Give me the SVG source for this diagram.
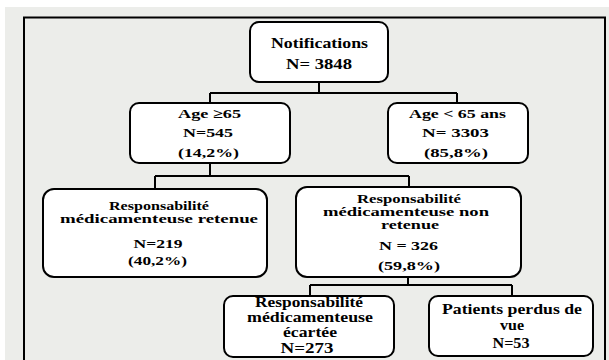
<svg xmlns="http://www.w3.org/2000/svg" width="609" height="360" viewBox="0 0 609 360">
<style>
.box{fill:#ffffff;stroke:#000000;stroke-width:2}
.t{font-family:"Liberation Serif","Times New Roman",serif;font-weight:bold;fill:#000000;text-anchor:middle}
.s14{font-size:14px}
.s13{font-size:13px}
.s15{font-size:15px}
.conn{fill:none;stroke:#000000;stroke-width:2}
</style>
<rect x="0" y="0" width="609" height="360" fill="#ffffff"/>
<rect x="5" y="7" width="604" height="353" fill="#ecedea"/>
<rect x="24" y="17.5" width="581" height="360" fill="none" stroke="#000000" stroke-width="2"/>
<g id="connectors">
<path class="conn" d="M319,82 V93 M210,93 H457 M210,93 V103 M457,93 V103"/>
<path class="conn" d="M210,163 V176 M155,176 H409 M155,176 V189 M409,176 V187"/>
<path class="conn" d="M408,277 V285 M310,285 H512 M310,285 V296 M512,285 V296"/>
</g>
<g id="notifications">
<rect class="box" x="250" y="22" width="138" height="60" rx="9"/>
<text class="t s14" x="319.5" y="48" textLength="97" lengthAdjust="spacingAndGlyphs">Notifications</text>
<text class="t s14" x="319" y="69" textLength="66" lengthAdjust="spacingAndGlyphs">N= 3848</text>
</g>
<g id="age65plus">
<rect class="box" x="130" y="103" width="160" height="60" rx="9"/>
<text class="t s13" x="209.5" y="118" textLength="63" lengthAdjust="spacingAndGlyphs">Age ≥65</text>
<text class="t s13" x="208" y="137" textLength="50" lengthAdjust="spacingAndGlyphs">N=545</text>
<text class="t s13" x="208.5" y="157" textLength="61" lengthAdjust="spacingAndGlyphs">(14,2%)</text>
</g>
<g id="age65minus">
<rect class="box" x="388" y="103" width="140" height="60" rx="9"/>
<text class="t s13" x="457.5" y="118" textLength="97" lengthAdjust="spacingAndGlyphs">Age &lt; 65 ans</text>
<text class="t s13" x="455.5" y="137" textLength="67" lengthAdjust="spacingAndGlyphs">N= 3303</text>
<text class="t s13" x="456" y="157" textLength="64" lengthAdjust="spacingAndGlyphs">(85,8%)</text>
</g>
<g id="retenue">
<rect class="box" x="43" y="189" width="224" height="88" rx="11"/>
<text class="t s13" x="159" y="210" textLength="100" lengthAdjust="spacingAndGlyphs">Responsabilité</text>
<text class="t s13" x="159" y="223" textLength="198" lengthAdjust="spacingAndGlyphs">médicamenteuse retenue</text>
<text class="t s13" x="158" y="248" textLength="49" lengthAdjust="spacingAndGlyphs">N=219</text>
<text class="t s13" x="157.5" y="265" textLength="59" lengthAdjust="spacingAndGlyphs">(40,2%)</text>
</g>
<g id="nonretenue">
<rect class="box" x="296" y="187" width="225" height="90" rx="11"/>
<text class="t s13" x="409" y="203" textLength="104" lengthAdjust="spacingAndGlyphs">Responsabilité</text>
<text class="t s13" x="406" y="216" textLength="166" lengthAdjust="spacingAndGlyphs">médicamenteuse non</text>
<text class="t s13" x="410" y="229" textLength="58" lengthAdjust="spacingAndGlyphs">retenue</text>
<text class="t s13" x="408.5" y="250" textLength="59" lengthAdjust="spacingAndGlyphs">N = 326</text>
<text class="t s13" x="409" y="270" textLength="62" lengthAdjust="spacingAndGlyphs">(59,8%)</text>
</g>
<g id="ecartee">
<rect class="box" x="224" y="296" width="170" height="61" rx="9"/>
<text class="t s15" x="309" y="307" textLength="108" lengthAdjust="spacingAndGlyphs">Responsabilité</text>
<text class="t s15" x="310" y="322" textLength="126" lengthAdjust="spacingAndGlyphs">médicamenteuse</text>
<text class="t s15" x="310" y="337" textLength="54" lengthAdjust="spacingAndGlyphs">écartée</text>
<text class="t s15" x="307" y="353" textLength="53" lengthAdjust="spacingAndGlyphs">N=273</text>
</g>
<g id="perdus">
<rect class="box" x="429" y="296" width="164" height="60" rx="9"/>
<text class="t s15" x="512" y="314" textLength="140" lengthAdjust="spacingAndGlyphs">Patients perdus de</text>
<text class="t s15" x="512" y="330" textLength="24" lengthAdjust="spacingAndGlyphs">vue</text>
<text class="t s15" x="511" y="348" textLength="37" lengthAdjust="spacingAndGlyphs">N=53</text>
</g>
</svg>
